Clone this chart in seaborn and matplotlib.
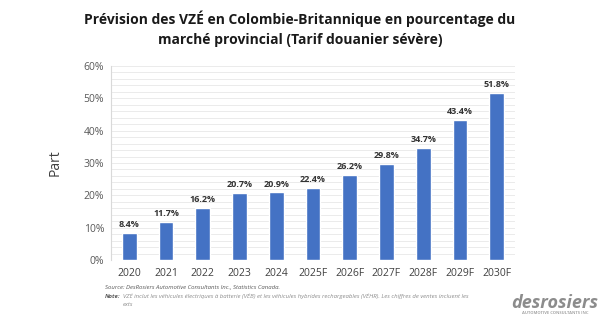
import matplotlib
matplotlib.use("Agg")
import matplotlib.pyplot as plt
import seaborn as sns
import pandas as pd
import numpy as np
from matplotlib.ticker import MultipleLocator, FuncFormatter

categories = ["2020", "2021", "2022", "2023", "2024", "2025F", "2026F",
              "2027F", "2028F", "2029F", "2030F"]
values = [8.4, 11.7, 16.2, 20.7, 20.9, 22.4, 26.2, 29.8, 34.7, 43.4, 51.8]
value_labels = ["8.4%", "11.7%", "16.2%", "20.7%", "20.9%", "22.4%", "26.2%",
                "29.8%", "34.7%", "43.4%", "51.8%"]

title = "Prévision des VZÉ en Colombie-Britannique en pourcentage du\nmarché provincial (Tarif douanier sévère)"
ylabel = "Part"
source = "Source: DesRosiers Automotive Consultants Inc., Statistics Canada."
note_head = "Note:"
note = "VZÉ inclut les véhicules électriques à batterie (VÉB) et les véhicules hybrides rechargeables (VÉHR). Les chiffres de ventes incluent les"
note2 = "exts"

sns.set_theme(style="white")
plt.rcParams['font.family'] = ['Open Sans', 'DejaVu Sans']

df = pd.DataFrame({"cat": categories, "val": values})

fig = plt.figure(figsize=(6.0, 3.22), dpi=100)
ax = fig.add_axes([111/600, 1-260/322, (515-111)/600, (260-66)/322])

sns.barplot(data=df, x="cat", y="val", color="#4472C4", saturation=1,
            width=0.4, ax=ax, zorder=3)

ax.set_ylim(0, 60)
ax.set_xlim(-0.5, len(categories) - 0.5)
ax.yaxis.set_major_locator(MultipleLocator(10))
ax.yaxis.set_minor_locator(MultipleLocator(2))
ax.yaxis.set_major_formatter(FuncFormatter(lambda v, p: f"{int(v)}%"))
ax.grid(axis="y", which="both", color="#ebebeb", linewidth=0.7, zorder=0)
ax.set_axisbelow(True)
for s in ["top", "right", "bottom"]:
    ax.spines[s].set_visible(False)
ax.spines["left"].set_color("#d9d9d9")
ax.spines["left"].set_linewidth(0.8)
ax.tick_params(axis="y", which="both", length=0, labelsize=7.5, labelcolor="#595959", pad=5)
ax.tick_params(axis="x", length=0, labelsize=7.5, labelcolor="#404040", pad=6)
ax.set_xlabel("")
ax.set_ylabel(ylabel, fontsize=10, color="#404040", labelpad=15)

for i, (v, lab) in enumerate(zip(values, value_labels)):
    ax.text(i, v + 1.2, lab, ha="center", va="bottom", fontsize=6.5,
            fontweight="bold", color="#333333")

fig.text(0.5, 1-29/322, title, ha="center", va="center", fontsize=10,
         fontweight="bold", color="#1a1a1a", linespacing=1.55)

fig.text(105/600, 1-287/322, source, ha="left", va="center", fontsize=4.3,
         style="italic", color="#595959")
fig.text(105/600, 1-296/322, note_head, ha="left", va="center", fontsize=4.3,
         style="italic", fontweight="bold", color="#595959")
fig.text(123/600, 1-296/322, note, ha="left", va="center", fontsize=4.3,
         style="italic", color="#8c8c8c")
fig.text(123/600, 1-305/322, note2, ha="left", va="center", fontsize=4.3,
         style="italic", color="#8c8c8c")

fig.text(555/600, 1-303/322, "desrosiers", ha="center", va="center",
         fontsize=13, fontweight="bold", style="italic", color="#8c8c8c")
fig.text(555/600, 1-313/322, "AUTOMOTIVE CONSULTANTS INC", ha="center",
         va="center", fontsize=3, fontweight="bold", color="#a6a6a6")

fig.savefig("out.png", dpi=100, facecolor="white")
